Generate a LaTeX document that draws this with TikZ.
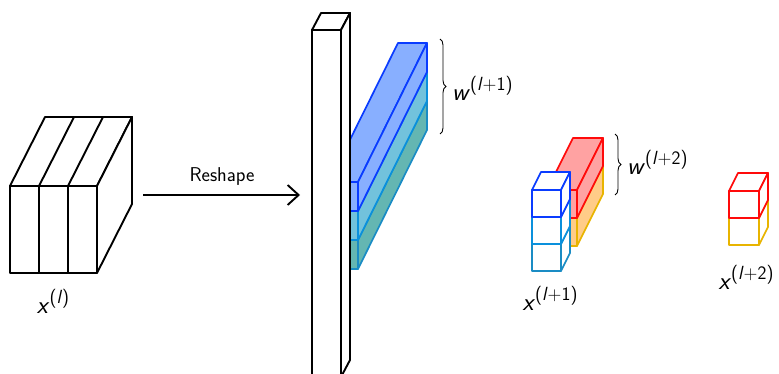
\documentclass[tikz,border=0pt]{standalone}
\usepackage{fontspec}
\usetikzlibrary{arrows.meta,decorations.pathreplacing}
\definecolor{blueS}{HTML}{0A3CFF}
\definecolor{blueF}{HTML}{88AFFF}
\definecolor{cyanS}{HTML}{0A90DC}
\definecolor{cyanF}{HTML}{72C2DC}
\definecolor{tealS}{HTML}{1A8CC4}
\definecolor{tealF}{HTML}{64B6B2}
\definecolor{redS}{HTML}{FF0A0A}
\definecolor{redF}{HTML}{FFA2A2}
\definecolor{yelS}{HTML}{E8B400}
\definecolor{yelF}{HTML}{FFCC88}
\newcommand{\cuboid}[7]{%
  \filldraw[#7] (#1,#2) -- ++(#5,#6) -- ++({#3-#1},0) -- (#3,#2) -- cycle;
  \filldraw[#7] (#1,#2) rectangle (#3,#4);
  \filldraw[#7] (#3,#2) -- ++(#5,#6) -- ++(0,{#4-#2}) -- (#3,#4) -- cycle;
}
\newcommand{\suplbl}[2]{\textit{#1}\raisebox{10pt}{\fontsize{19}{20}\selectfont #2}}
\tikzset{
  blk/.style={draw=black,fill=white,line width=1.9pt,line join=round},
  cbox/.style={line width=1.7pt,line join=round},
  lbl/.style={font=\sffamily\fontsize{25}{30}\selectfont,inner sep=0pt},
  small/.style={font=\sffamily\fontsize{20}{24}\selectfont,inner sep=0pt},
  brc/.style={draw=black,line width=0.9pt,decorate,decoration={brace,amplitude=6pt}}
}
\begin{document}
\begin{tikzpicture}[x=1pt,y=-1pt]
\useasboundingbox (0,0) rectangle (779,374);
\clip (0,0) rectangle (779,374);
% input tensor x^(l)
\cuboid{10}{186}{97}{273}{35}{-69}{blk}
\draw[blk] (39,186) -- (39,273) (68,186) -- (68,273);
\draw[blk] (39,186) -- ++(35,-69) (68,186) -- ++(35,-69);
\node[lbl] (xl) at (53,301) {\suplbl{x}{(\textit{l})}};
% reshape arrow
\coordinate (ra) at (143,195);
\coordinate (rb) at (300,195);
\draw[line width=1.9pt,-{Straight Barb[length=11pt,width=20pt,line width=1.9pt]}] (ra) -- (rb);
\node[small] (rs) at (222,177) {Reshape};
% weight bars w^(l+1)
\cuboid{329}{240}{358}{269}{69}{-139}{cbox,draw=tealS,fill=tealF}
\cuboid{329}{211}{358}{240}{69}{-139}{cbox,draw=cyanS,fill=cyanF}
\cuboid{329}{182}{358}{211}{69}{-139}{cbox,draw=blueS,fill=blueF}
% reshaped column
\cuboid{312}{30}{341}{377}{9}{-17}{blk}
\coordinate (b1a) at (440,39);
\coordinate (b1b) at (440,134);
\draw[brc] (b1a) -- (b1b);
\node[lbl,anchor=west] (wl1) at (452,88) {\suplbl{w}{(\textit{l}+1)}};
% weight bars w^(l+2)
\cuboid{547}{218}{577}{246}{26}{-52}{cbox,draw=yelS,fill=yelF}
\cuboid{547}{190}{577}{218}{26}{-52}{cbox,draw=redS,fill=redF}
% x^(l+1) cubes
\cuboid{532}{244}{561}{271}{9}{-18}{cbox,draw=tealS,fill=white}
\cuboid{532}{217}{561}{244}{9}{-18}{cbox,draw=cyanS,fill=white}
\cuboid{532}{190}{561}{217}{9}{-18}{cbox,draw=blueS,fill=white}
\coordinate (b2a) at (615,134);
\coordinate (b2b) at (615,195);
\draw[brc] (b2a) -- (b2b);
\node[lbl,anchor=west] (wl2) at (627,162) {\suplbl{w}{(\textit{l}+2)}};
\node[lbl] (xl1) at (550,298) {\suplbl{x}{(\textit{l}+1)}};
% x^(l+2) cubes
\cuboid{729}{218}{759}{245}{9}{-18}{cbox,draw=yelS,fill=white}
\cuboid{729}{191}{759}{218}{9}{-18}{cbox,draw=redS,fill=white}
\node[lbl] (xl2) at (746,277) {\suplbl{x}{(\textit{l}+2)}};
\end{tikzpicture}
\end{document}
